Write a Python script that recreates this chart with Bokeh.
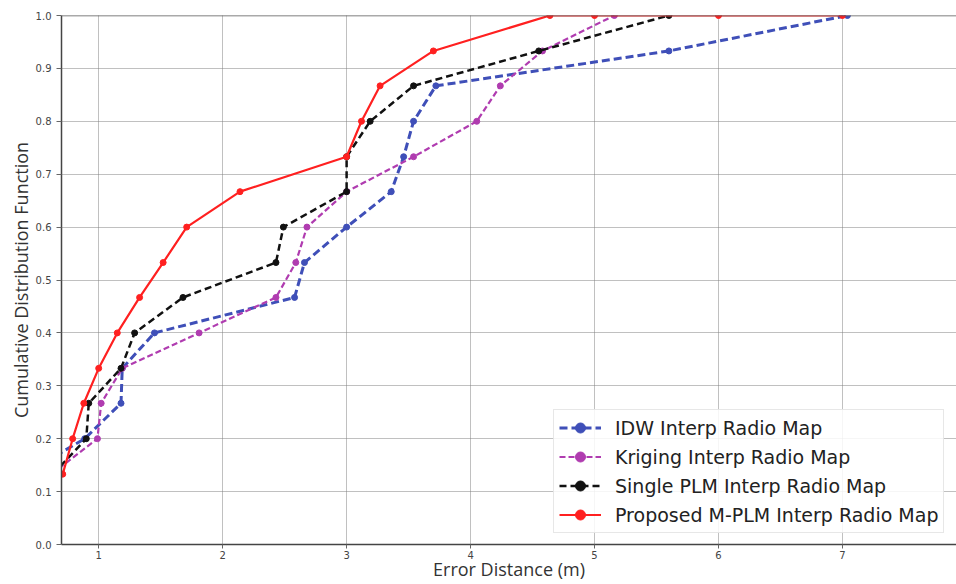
from bokeh.plotting import figure
from bokeh.models import Range1d, Legend, LegendItem, Span, FixedTicker
from bokeh.embed import file_html
from bokeh.resources import INLINE

# Data (error distance in m, CDF)
idw_x = [0.40, 0.887, 1.18, 1.19, 1.45, 2.58, 2.66, 3.0, 3.36, 3.46, 3.54, 3.72, 5.6, 7.04]
idw_y = [0.133, 0.2, 0.267, 0.333, 0.4, 0.467, 0.533, 0.6, 0.667, 0.733, 0.8, 0.867, 0.933, 1.0]

krig_x = [0.62, 0.99, 1.02, 1.19, 1.81, 2.43, 2.59, 2.68, 3.0, 3.54, 4.05, 4.24, 4.58, 5.16]
krig_y = [0.133, 0.2, 0.267, 0.333, 0.4, 0.467, 0.533, 0.6, 0.667, 0.733, 0.8, 0.867, 0.933, 1.0]

single_x = [0.63, 0.90, 0.92, 1.18, 1.29, 1.68, 2.43, 2.49, 3.0, 3.0, 3.19, 3.54, 4.55, 5.6]
single_y = [0.133, 0.2, 0.267, 0.333, 0.4, 0.467, 0.533, 0.6, 0.667, 0.733, 0.8, 0.867, 0.933, 1.0]

mplm_x = [0.71, 0.79, 0.88, 1.0, 1.15, 1.33, 1.52, 1.71, 2.14, 3.0, 3.12, 3.27, 3.70, 4.64, 5.0, 6.0, 7.0]
mplm_y = [0.133, 0.2, 0.267, 0.333, 0.4, 0.467, 0.533, 0.6, 0.667, 0.733, 0.8, 0.867, 0.933, 1.0, 1.0, 1.0, 1.0]

x_ticks = [1, 2, 3, 4, 5, 6, 7]
y_ticks = [0.0, 0.1, 0.2, 0.3, 0.4, 0.5, 0.6, 0.7, 0.8, 0.9, 1.0]

labels = ["IDW Interp Radio Map", "Kriging Interp Radio Map",
          "Single PLM Interp Radio Map", "Proposed M-PLM Interp Radio Map"]

p = figure(width=956, height=584, output_backend="svg", toolbar_location=None,
           x_range=Range1d(0.7, 7.92), y_range=Range1d(0.0, 1.0),
           min_border_left=61, min_border_right=0, min_border_top=15, min_border_bottom=40)
p.outline_line_color = None
p.background_fill_color = "white"
p.border_fill_color = "white"

p.xaxis.ticker = FixedTicker(ticks=x_ticks)
p.yaxis.ticker = FixedTicker(ticks=y_ticks)
p.yaxis.major_label_overrides = {t: f"{t:.1f}" for t in y_ticks}

for ax in (p.xaxis[0], p.yaxis[0]):
    ax.axis_line_color = "#444444"
    ax.axis_line_width = 1.5
    ax.major_tick_line_color = "#666666"
    ax.major_tick_out = 5
    ax.major_tick_in = 0
    ax.minor_tick_line_color = None
    ax.major_label_text_font = "DejaVu Sans"
    ax.major_label_text_font_size = "10px"
    ax.major_label_text_color = "#444444"
    ax.axis_label_text_font = "Open Sans"
    ax.axis_label_text_font_size = "18px"
    ax.axis_label_text_font_style = "normal"
    ax.axis_label_text_color = "#333333"
    ax.axis_label_standoff = 0
p.xaxis.major_tick_out = 4
p.xaxis.major_label_standoff = 2
p.xaxis.axis_label_standoff = -5
p.yaxis.major_label_standoff = 5

p.yaxis.axis_label = "Cumulative Distribution Function"
p.xaxis.axis_label = "Error Distance (m)"

for g in (p.xgrid[0], p.ygrid[0]):
    g.grid_line_color = "#808080"
    g.grid_line_dash = "1 1"
    g.grid_line_width = 1

p.add_layout(Span(location=1.0, dimension="width", line_color="#555555", line_width=1.5))

series = [
    (idw_x, idw_y, "#3f4fb8", "8 4", 3.0),
    (krig_x, krig_y, "#b03cb0", "6 3", 2.2),
    (single_x, single_y, "#111111", "7 4", 2.5),
    (mplm_x, mplm_y, "#ff2020", "solid", 2.2),
]

items = []
for (xs, ys, col, dash, lw), lab in zip(series, labels):
    r1 = p.line(xs, ys, line_color=col, line_width=lw, line_dash=dash)
    r2 = p.scatter(xs, ys, marker="circle", size=6, fill_color=col, line_color=col)
    items.append(LegendItem(label=lab, renderers=[r1, r2]))

legend = Legend(items=items, location=(492, 11))
legend.label_text_font = "DejaVu Sans"
legend.label_text_font_size = "19px"
legend.label_text_color = "#222222"
legend.label_height = 25
legend.glyph_height = 25
legend.glyph_width = 42
legend.label_standoff = 14
legend.spacing = 4
legend.padding = 5
legend.margin = 0
legend.border_line_color = "#d0d0d0"
legend.border_line_width = 1
legend.background_fill_color = "white"
legend.background_fill_alpha = 0.85
p.add_layout(legend, "center")

open("out.html", "w").write(file_html(p, INLINE))
